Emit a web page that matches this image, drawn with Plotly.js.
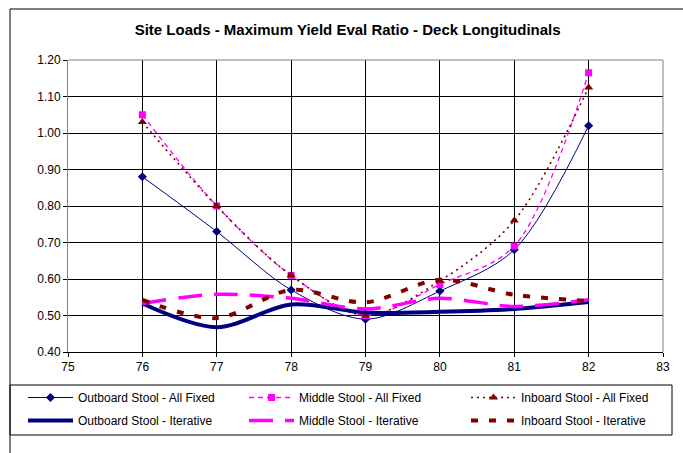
<!DOCTYPE html>
<html>
<head>
<meta charset="utf-8">
<script src="https://cdn.plot.ly/plotly-3.0.1.min.js"></script>
<style>
  html, body { margin: 0; padding: 0; background: #fff; }
  #chart { width: 683px; height: 453px; }
</style>
</head>
<body>
<div id="chart"></div>
<script>
// Frame positions along the deck
const frames = [76, 77, 78, 79, 80, 81, 82];

// Maximum yield evaluation ratio, all stools fixed
const outboardFixed = [0.88, 0.73, 0.57, 0.49, 0.567, 0.68, 1.02];
const middleFixed   = [1.05, 0.80, 0.61, 0.50, 0.585, 0.69, 1.165];
const inboardFixed  = [1.03, 0.80, 0.61, 0.50, 0.595, 0.76, 1.125];

// Maximum yield evaluation ratio, iterative stool solution
const outboardIter = [0.533, 0.468, 0.53, 0.508, 0.51, 0.518, 0.537];
const middleIter   = [0.533, 0.558, 0.547, 0.518, 0.547, 0.525, 0.543];
const inboardIter  = [0.543, 0.493, 0.57, 0.536, 0.598, 0.557, 0.54];

const NAVY = '#000080', MAGENTA = '#FF00FF', MAROON = '#800000';
const FONT = 'Liberation Sans, Arial, sans-serif';

function series(name, y, line, marker, legend) {
  const t = {
    type: 'scatter',
    mode: marker ? 'lines+markers' : 'lines',
    name: name,
    legendgroup: name,
    x: frames,
    y: y,
    line: Object.assign({shape: 'spline', smoothing: 0.9}, line),
    legend: legend
  };
  if (marker) t.marker = marker;
  return t;
}

// one legend column per stool
const traces = [
  series('Outboard Stool - All Fixed', outboardFixed,
         {color: NAVY, width: 1}, {symbol: 'diamond', size: 7, color: NAVY}, 'legend'),
  series('Middle Stool - All Fixed', middleFixed,
         {color: MAGENTA, width: 1.3, dash: '5px,4px'}, {symbol: 'square', size: 7, color: MAGENTA}, 'legend2'),
  series('Inboard Stool - All Fixed', inboardFixed,
         {color: MAROON, width: 1.6, dash: '2px,4px'}, {symbol: 'triangle-up', size: 8, color: MAROON}, 'legend3'),
  series('Outboard Stool - Iterative', outboardIter,
         {color: NAVY, width: 4}, null, 'legend'),
  series('Middle Stool - Iterative', middleIter,
         {color: MAGENTA, width: 3.5, dash: '24px,12px'}, null, 'legend2'),
  series('Inboard Stool - Iterative', inboardIter,
         {color: MAROON, width: 4, dash: '7px,11px'}, null, 'legend3')
];

// plot area in pixels: 68..663 horizontally, 60..352 vertically
const L = 68, T = 60, W = 595, H = 292;
const px = x => (x - L) / W;
const py = y => 1 - (y - T) / H;

const legendCommon = {
  orientation: 'v',
  xref: 'container', yref: 'container',
  xanchor: 'left', yanchor: 'top',
  y: 1 - 383 / 453,
  itemwidth: 45,
  tracegroupgap: 4,
  bgcolor: 'rgba(0,0,0,0)',
  font: {family: FONT, size: 12, color: '#000'}
};

const layout = {
  width: 683, height: 453,
  margin: {l: L, r: 683 - L - W, t: T, b: 453 - T - H, autoexpand: false},
  paper_bgcolor: '#fff', plot_bgcolor: '#fff',
  font: {family: FONT, size: 12, color: '#000'},
  title: {
    text: 'Site Loads - Maximum Yield Eval Ratio - Deck Longitudinals',
    font: {family: FONT, size: 15, color: '#000', weight: 'bold'},
    xref: 'container', x: 0.509, xanchor: 'center',
    yref: 'container', y: 1 - 30 / 453, yanchor: 'middle'
  },
  xaxis: {
    range: [75, 83], dtick: 1, tick0: 75,
    showgrid: true, gridcolor: '#000', gridwidth: 1,
    showline: true, linecolor: '#000', linewidth: 1, mirror: false,
    ticks: 'outside', ticklen: 4, tickcolor: '#000',
    zeroline: false, fixedrange: true, automargin: false
  },
  yaxis: {
    range: [0.4, 1.2], dtick: 0.1, tick0: 0.4, tickformat: '.2f',
    showgrid: true, gridcolor: '#000', gridwidth: 1,
    showline: true, linecolor: '#808080', linewidth: 1, mirror: false,
    ticks: 'outside', ticklen: 4, tickcolor: '#000',
    zeroline: false, fixedrange: true, automargin: false
  },
  showlegend: true,
  legend:  Object.assign({}, legendCommon, {x: 23 / 683}),
  legend2: Object.assign({}, legendCommon, {x: 244 / 683}),
  legend3: Object.assign({}, legendCommon, {x: 466 / 683}),
  shapes: [
    // chart frame
    {type: 'rect', xref: 'paper', yref: 'paper', layer: 'below',
     x0: px(10), x1: px(700), y0: py(475), y1: py(9),
     line: {color: '#000', width: 1}, fillcolor: 'rgba(0,0,0,0)'},
    // right and top edges of the plot area
    {type: 'line', xref: 'paper', yref: 'paper', x0: 1, x1: 1, y0: 0, y1: 1,
     line: {color: '#808080', width: 1}},
    {type: 'line', xref: 'paper', yref: 'paper', x0: 0, x1: 1, y0: 1, y1: 1,
     line: {color: '#808080', width: 1}},
    // legend box
    {type: 'rect', xref: 'paper', yref: 'paper', layer: 'below',
     x0: px(10), x1: px(672), y0: py(435), y1: py(385),
     line: {color: '#000', width: 1}, fillcolor: 'rgba(0,0,0,0)'}
  ]
};

Plotly.newPlot('chart', traces, layout, {staticPlot: true, displayModeBar: false});
</script>
</body>
</html>
